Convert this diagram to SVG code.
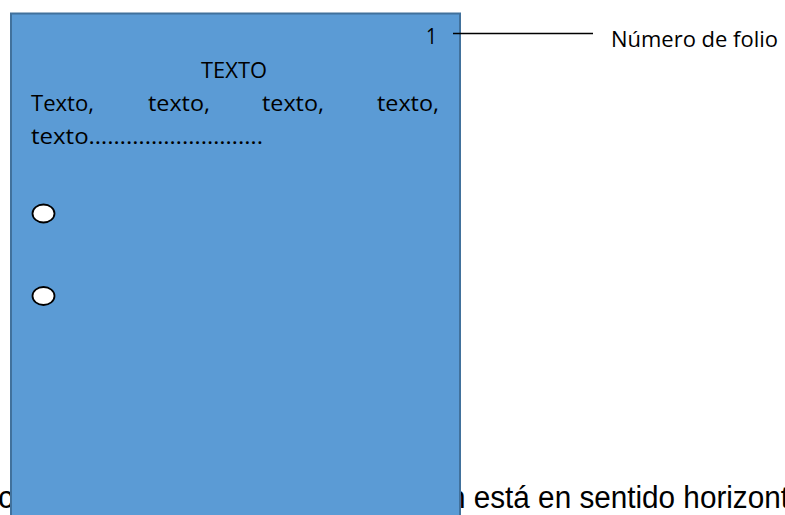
<svg xmlns="http://www.w3.org/2000/svg" width="785" height="515" viewBox="0 0 785 515">
  <style>
    .page { fill: #5B9BD5; stroke: #41719C; stroke-width: 2; }
    .body { font-family: "Open Sans", "Noto Sans", "Liberation Sans", sans-serif; font-size: 21.5px; fill: #000; }
    .under { font-family: "Liberation Sans", Arial, sans-serif; font-size: 31px; fill: #000; }
    .hole { fill: #fff; stroke: #000; stroke-width: 1.8; }
    .leader { stroke: #000; stroke-width: 1.3; fill: none; }
  </style>

  <rect width="785" height="515" fill="#fff"/>

  <!-- sentence running underneath the page sheet -->
  <g id="caption">
    <text class="under" x="-2" y="508">c</text>
    <text class="under" x="449" y="508" textLength="340" lengthAdjust="spacingAndGlyphs">n está en sentido horizont</text>
  </g>

  <!-- page sheet -->
  <g id="page">
    <rect class="page" x="11" y="13.5" width="449" height="520"/>
    <text class="body" x="426" y="43.5" textLength="11" lengthAdjust="spacingAndGlyphs">1</text>
    <text class="body" x="201" y="77.5" textLength="66" lengthAdjust="spacingAndGlyphs">TEXTO</text>
    <text class="body" x="31" y="111" textLength="63" lengthAdjust="spacingAndGlyphs">Texto,</text>
    <text class="body" x="148" y="111" textLength="62" lengthAdjust="spacingAndGlyphs">texto,</text>
    <text class="body" x="262" y="111" textLength="62" lengthAdjust="spacingAndGlyphs">texto,</text>
    <text class="body" x="377" y="111" textLength="62" lengthAdjust="spacingAndGlyphs">texto,</text>
    <text class="body" x="31" y="143.5" textLength="232" lengthAdjust="spacingAndGlyphs">texto……………………….</text>
    <ellipse class="hole" cx="43.5" cy="213.5" rx="11" ry="9"/>
    <ellipse class="hole" cx="43.5" cy="296" rx="11" ry="9"/>
  </g>

  <!-- leader line to the folio label -->
  <g id="connectors">
    <line class="leader" x1="453" y1="33.5" x2="593" y2="33.5"/>
  </g>

  <g id="folio-label">
    <text class="body" x="611" y="47" textLength="167" lengthAdjust="spacingAndGlyphs">Número de folio</text>
  </g>
</svg>
